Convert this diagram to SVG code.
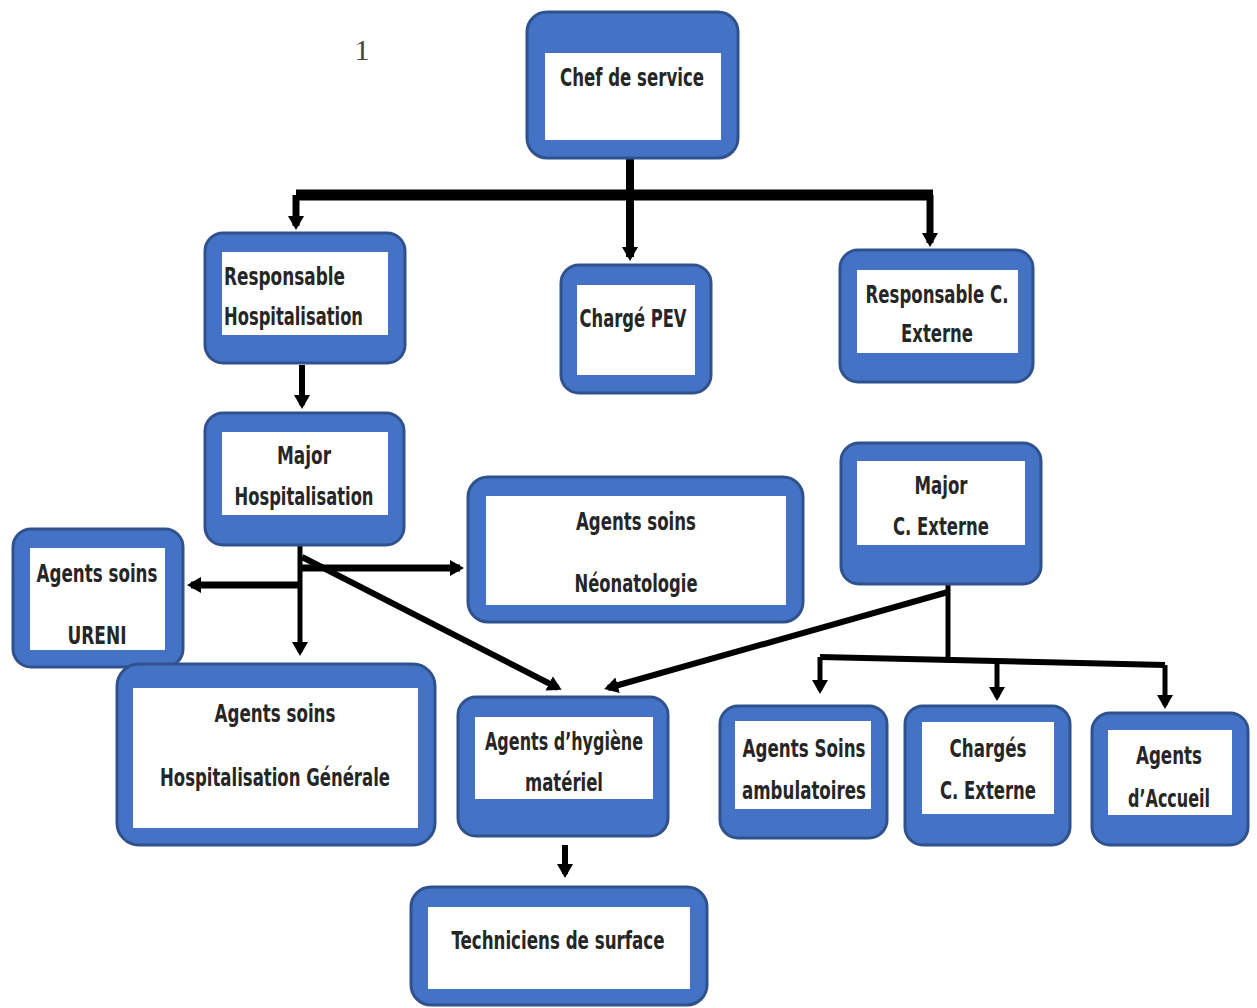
<svg xmlns="http://www.w3.org/2000/svg" width="1257" height="1008" viewBox="0 0 1257 1008">
<style>
.box{fill:#4472C4;stroke:#2F528F;stroke-width:3}
.in{fill:#ffffff}
.t{font-family:"DejaVu Sans Condensed","DejaVu Sans",sans-serif;font-stretch:condensed;font-weight:bold;font-size:25px;fill:#262626}
.c{fill:none;stroke:#000}
</style>
<defs>
<marker id="ah" markerUnits="userSpaceOnUse" markerWidth="18" markerHeight="18" refX="10" refY="9" orient="auto">
<path d="M0,1 L14,9 L0,17 Z" fill="#000"/>
</marker>
</defs>
<rect width="1257" height="1008" fill="#ffffff"/>
<text x="362" y="60" font-family="Liberation Serif,serif" font-size="30" fill="#444" text-anchor="middle">1</text>

<g id="connectors">
<path class="c" d="M296,195 H933" stroke-width="11"/>
<path class="c" d="M630,148 V257" stroke-width="8" marker-end="url(#ah)"/>
<path class="c" d="M296,195 V226" stroke-width="7" marker-end="url(#ah)"/>
<path class="c" d="M930,195 V243" stroke-width="7" marker-end="url(#ah)"/>
<path class="c" d="M302,365 V405" stroke-width="6" marker-end="url(#ah)"/>
<path class="c" d="M300,545 V652" stroke-width="5" marker-end="url(#ah)"/>
<path class="c" d="M300,568 H460" stroke-width="7" marker-end="url(#ah)"/>
<path class="c" d="M302,585 H191" stroke-width="7" marker-end="url(#ah)"/>
<path class="c" d="M302,557 L558,688" stroke-width="6" marker-end="url(#ah)"/>
<path class="c" d="M948,592 L608,688" stroke-width="6" marker-end="url(#ah)"/>
<path class="c" d="M948,584 V657" stroke-width="5"/>
<path class="c" d="M820,657 L1165,665" stroke-width="6"/>
<path class="c" d="M820,657 V690" stroke-width="5" marker-end="url(#ah)"/>
<path class="c" d="M997,661 V697" stroke-width="5" marker-end="url(#ah)"/>
<path class="c" d="M1165,665 V705" stroke-width="5" marker-end="url(#ah)"/>
<path class="c" d="M565,845 V874" stroke-width="6" marker-end="url(#ah)"/>
</g>

<g id="chef">
<rect class="box" x="527" y="12" width="211" height="146" rx="20"/>
<rect class="in" x="545" y="53" width="176" height="87"/>
<text class="t" x="632" y="86" text-anchor="middle" textLength="144" lengthAdjust="spacingAndGlyphs">Chef de service</text>
</g>

<g id="resp-hosp">
<rect class="box" x="205" y="233" width="200" height="130" rx="18"/>
<rect class="in" x="222" y="252" width="166" height="83"/>
<text class="t" x="224" y="285" textLength="121" lengthAdjust="spacingAndGlyphs">Responsable</text>
<text class="t" x="224" y="325" textLength="139" lengthAdjust="spacingAndGlyphs">Hospitalisation</text>
</g>

<g id="pev">
<rect class="box" x="561" y="265" width="150" height="128" rx="18"/>
<rect class="in" x="577" y="285" width="118" height="90"/>
<text class="t" x="633" y="327" text-anchor="middle" textLength="107" lengthAdjust="spacingAndGlyphs">Chargé PEV</text>
</g>

<g id="resp-ce">
<rect class="box" x="840" y="250" width="193" height="132" rx="18"/>
<rect class="in" x="857" y="270" width="161" height="83"/>
<text class="t" x="937" y="303" text-anchor="middle" textLength="143" lengthAdjust="spacingAndGlyphs">Responsable C.</text>
<text class="t" x="937" y="342" text-anchor="middle" textLength="72" lengthAdjust="spacingAndGlyphs">Externe</text>
</g>

<g id="major-hosp">
<rect class="box" x="205" y="413" width="199" height="132" rx="18"/>
<rect class="in" x="222" y="432" width="166" height="83"/>
<text class="t" x="304" y="464" text-anchor="middle" textLength="54" lengthAdjust="spacingAndGlyphs">Major</text>
<text class="t" x="304" y="505" text-anchor="middle" textLength="139" lengthAdjust="spacingAndGlyphs">Hospitalisation</text>
</g>

<g id="neonat">
<rect class="box" x="468" y="477" width="335" height="145" rx="20"/>
<rect class="in" x="486" y="496" width="300" height="109"/>
<text class="t" x="636" y="530" text-anchor="middle" textLength="120" lengthAdjust="spacingAndGlyphs">Agents soins</text>
<text class="t" x="636" y="592" text-anchor="middle" textLength="123" lengthAdjust="spacingAndGlyphs">Néonatologie</text>
</g>

<g id="major-ce">
<rect class="box" x="841" y="443" width="200" height="141" rx="18"/>
<rect class="in" x="857" y="461" width="168" height="84"/>
<text class="t" x="941" y="494" text-anchor="middle" textLength="53" lengthAdjust="spacingAndGlyphs">Major</text>
<text class="t" x="941" y="535" text-anchor="middle" textLength="96" lengthAdjust="spacingAndGlyphs">C. Externe</text>
</g>

<g id="ureni">
<rect class="box" x="13" y="529" width="170" height="138" rx="18"/>
<rect class="in" x="30" y="548" width="135" height="102"/>
<text class="t" x="97" y="582" text-anchor="middle" textLength="121" lengthAdjust="spacingAndGlyphs">Agents soins</text>
<text class="t" x="97" y="644" text-anchor="middle" textLength="59" lengthAdjust="spacingAndGlyphs">URENI</text>
</g>

<g id="hosp-gen">
<rect class="box" x="117" y="664" width="318" height="181" rx="22"/>
<rect class="in" x="133" y="688" width="285" height="140"/>
<text class="t" x="275" y="722" text-anchor="middle" textLength="121" lengthAdjust="spacingAndGlyphs">Agents soins</text>
<text class="t" x="275" y="786" text-anchor="middle" textLength="230" lengthAdjust="spacingAndGlyphs">Hospitalisation Générale</text>
</g>

<g id="hygiene">
<rect class="box" x="458" y="697" width="210" height="139" rx="18"/>
<rect class="in" x="475" y="717" width="178" height="82"/>
<text class="t" x="564" y="750" text-anchor="middle" textLength="158" lengthAdjust="spacingAndGlyphs">Agents d’hygiène</text>
<text class="t" x="564" y="791" text-anchor="middle" textLength="78" lengthAdjust="spacingAndGlyphs">matériel</text>
</g>

<g id="techniciens">
<rect class="box" x="411" y="887" width="296" height="118" rx="20"/>
<rect class="in" x="428" y="907" width="262" height="82"/>
<text class="t" x="558" y="949" text-anchor="middle" textLength="213" lengthAdjust="spacingAndGlyphs">Techniciens de surface</text>
</g>

<g id="ambulatoires">
<rect class="box" x="720" y="706" width="167" height="132" rx="18"/>
<rect class="in" x="735" y="721" width="136" height="88"/>
<text class="t" x="804" y="757" text-anchor="middle" textLength="123" lengthAdjust="spacingAndGlyphs">Agents Soins</text>
<text class="t" x="804" y="799" text-anchor="middle" textLength="124" lengthAdjust="spacingAndGlyphs">ambulatoires</text>
</g>

<g id="charges-ce">
<rect class="box" x="905" y="706" width="165" height="139" rx="18"/>
<rect class="in" x="922" y="722" width="132" height="92"/>
<text class="t" x="988" y="757" text-anchor="middle" textLength="77" lengthAdjust="spacingAndGlyphs">Chargés</text>
<text class="t" x="988" y="799" text-anchor="middle" textLength="96" lengthAdjust="spacingAndGlyphs">C. Externe</text>
</g>

<g id="accueil">
<rect class="box" x="1092" y="713" width="156" height="132" rx="18"/>
<rect class="in" x="1108" y="730" width="124" height="85"/>
<text class="t" x="1169" y="764" text-anchor="middle" textLength="66" lengthAdjust="spacingAndGlyphs">Agents</text>
<text class="t" x="1169" y="807" text-anchor="middle" textLength="82" lengthAdjust="spacingAndGlyphs">d’Accueil</text>
</g>
</svg>
